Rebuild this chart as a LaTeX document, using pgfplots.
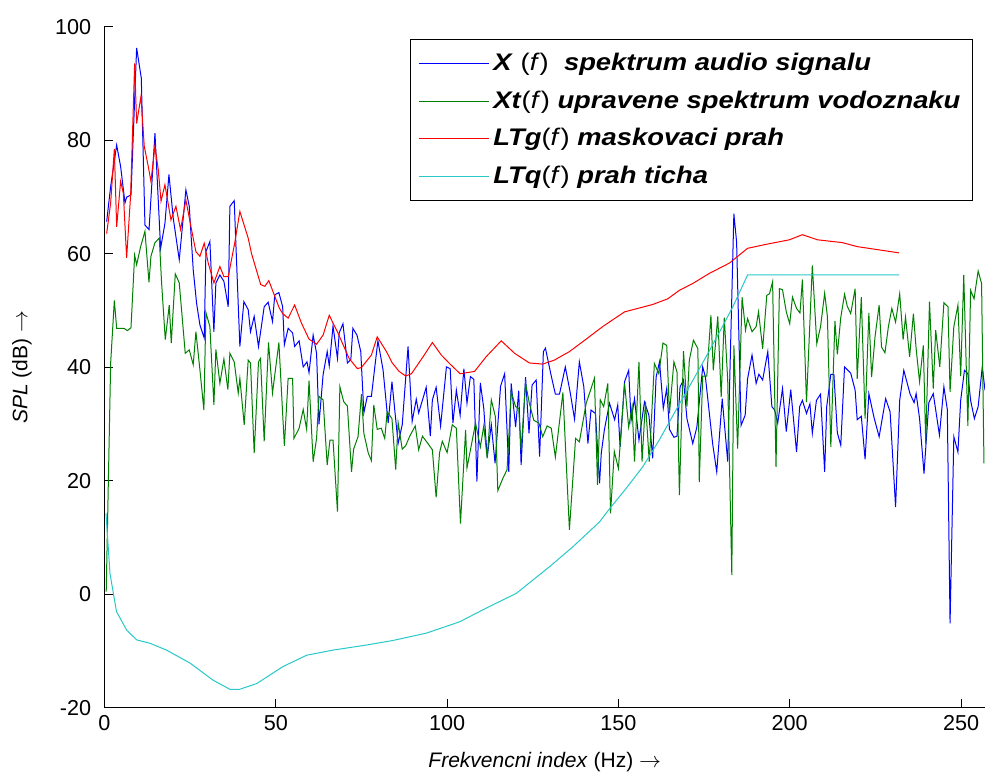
\documentclass[border=0pt]{standalone}
\usepackage{pgfplots}
\pgfplotsset{compat=1.18}
\usepackage{fontspec}
\setmainfont{Liberation Sans}
\newfontfamily\legendfont[FakeStretch=1.14]{Liberation Sans}
\definecolor{mblue}{rgb}{0,0,1}
\definecolor{mgreen}{rgb}{0,0.5,0}
\definecolor{mred}{rgb}{1,0,0}
\definecolor{mcyan}{RGB}{40,200,200}
\newcommand{\ff}{\textmd{\textup{(}\textit{f}\textup{)}}}
\begin{document}
\fontsize{10.5}{12.6}\selectfont
\begin{tikzpicture}
\begin{axis}[
  scale only axis, width=440.25pt, height=340.5pt,
  xmin=0, xmax=257, ymin=-20, ymax=100,
  axis x line*=bottom, axis y line*=left,
  axis line style={line width=0.5pt},
  tick align=inside, major tick length=4.5pt,
  tick style={line width=0.5pt, black},
  xtick={0,50,100,150,200,250}, xticklabels={0,50,100,150,200,250},
  ytick={-20,0,20,40,60,80,100}, yticklabels={-20,0,20,40,60,80,100},
  ticklabel style={font=\fontsize{10.8}{12.6}\selectfont},
  yticklabel style={xshift=-3pt},
  every axis x label/.style={at={(axis description cs:0.5,0)}, yshift=-27pt, anchor=center},
  every axis y label/.style={at={(axis description cs:0,0.5)}, xshift=-41.25pt, rotate=90, anchor=center},
  xlabel={\textit{Frekvencni index} (Hz) $\rightarrow$},
  ylabel={\textit{SPL} (dB) $\rightarrow$},
  legend style={at={(rel axis cs:0.9864,0.982)}, anchor=north east, draw=black, line width=0.6pt,
    font=\legendfont\fontsize{12}{14}\selectfont\bfseries\itshape, inner xsep=4pt, inner ysep=4.8pt, row sep=4.5pt},
  legend cell align=left,
  legend image code/.code={\draw[#1, line width=0.6pt] (0pt,0pt) -- (35pt,0pt);},
  every axis plot/.append style={line width=0.5pt},
]
\addplot[draw=mblue] coordinates {
(0.63,65.7) (1.8,71.9) (3.55,79.2) (4.71,75.4) (5.98,69) (6.46,70) (7.73,70.4) (9.38,96.3) (10.74,91) (11.81,65.1) (13,64.3) (14.73,81.3) (16.38,61) (17.64,65.4) (18.81,74) (20.07,66.3) (21.82,59) (23.76,71.3) (24.74,68.4) (25.9,57.2) (26.88,51.3) (27.85,47.5) (29.11,45.2) (29.6,60.4) (30.76,62.2) (31.93,46.3) (32.51,54.9) (33.68,56.3) (34.85,55.2) (36.11,50.7) (36.6,68.4) (37.86,69.4) (39.51,43.7) (40.68,51.6) (41.94,50.2) (42.62,46.3) (43.69,49) (44.95,43.7) (46.61,50.7) (47.77,51.5) (49.04,48.1)
(49.7,52.8) (50.9,53.2) (52,50.7) (52.5,44) (53.6,46.9) (54.9,46.1) (55.5,43.7) (56.8,44.7) (58,40.1) (59.1,41) (59.7,39.1) (60.9,45.7) (61.9,42.5) (62.6,30) (63.8,38.7) (65,42.8) (65.6,40.3) (66.7,47.3) (68,41.6) (68.5,46.1) (69.6,47.7) (70.9,40.8) (71.9,41.4) (72.5,46.9) (73.7,45.7) (74.8,42.8) (75.7,32) (76.7,34.9) (77.9,34.9) (78.9,40.1) (79.8,44.7) (81.3,39.6) (82.8,30.2) (83.9,37.5) (85.7,26.6) (86.9,29.9) (88.6,43.7) (89.8,30.5) (91,34.4) (91.7,32) (93.9,36.5) (95.1,27.9) (95.7,34.3) (96.8,36.5) (98.1,29.7) (99.8,40.1)
(100.9,39.8) (101.7,30.2) (102.7,36) (103.8,31.6) (104.9,39.8) (105.8,33.7) (106.8,38.4) (107.8,37.9) (108.7,19.9) (109.7,37.3) (110.7,32.8) (111.7,24.2) (112.9,29.9) (114,23.1) (115.6,36.7) (116.8,38.9) (118,21.6) (118.7,37.2) (120,29.5) (120.9,35.9) (121.6,22.8) (122.9,38.3) (123.9,28.4) (124.8,36.9) (126,37.8) (127,24.3) (128.1,42.8) (128.7,43.4) (130.4,38.5) (131.6,35.3) (132.8,35.3) (134.5,40.1) (135.9,35.7) (137.2,30.9) (138.6,41) (139.9,36.6) (141.1,26.6) (142,32.5) (143.3,31.9) (144.5,19.6) (145,24.9) (145.9,29) (147.4,33.7)
(148.9,30.8) (149.8,33.4) (150.5,26) (151.8,37.5) (153,39.5) (153.7,30.7) (154.7,34.5) (156,27.2) (157.6,33.9) (158.9,31.6) (160,24) (161,38.3) (162,41) (163.1,32.8) (164.1,36.3) (164.9,29.1) (166.2,27.7) (167.1,27.9) (168,36.6) (169,37.8) (170,31) (171.7,26.6) (172.9,29.5) (174.6,40.1) (175.4,38.3) (177.5,26.6) (178.7,21.6) (180.3,34.5) (181.9,23.4) (183.7,67.1) (184.5,62.1) (185.8,29.8) (187,31.6) (187.7,38) (189,42.2) (190.2,37.2) (191,38.8) (192.1,37.8) (193.6,42.8) (194.8,33.1) (195.6,32.5) (196.5,30.2)
(197.9,36.3) (199,28.7) (200.3,36.1) (202,25.1) (202.9,33.1) (203.7,34.2) (204.9,31.9) (205.9,33.6) (206.6,28.4) (207.8,34.2) (209,35.3) (210.2,21.6) (210.8,33.1) (212,38.8) (212.9,38.8) (213.9,28.5) (214.9,26.3) (216,40.1) (217.8,39) (219.1,36) (219.7,30.8) (220.9,31.4) (222,23.8) (223.1,35.4) (224.6,31.2) (226.1,27.8) (228,34.5) (229.3,32.2) (230.9,15.4) (232.1,34.2) (233.3,39.5) (235.1,35.4) (236.3,33.8) (236.9,35.4) (237.9,31) (239.2,21.3) (240.6,33.8) (241.9,35.4) (243.7,28.1) (245,36.6) (246,32.6) (246.8,-5.1) (247.9,27.8) (249.1,25.1) (249.9,34.2) (251,39.5) (252,38.9) (252.8,34.2) (253.9,31) (255,33.1) (256.2,40.1) (257,36)
};
\addlegendentry{X \ff\ \ spektrum audio signalu}
\addplot[draw=mgreen] coordinates {
(0.5,0.5) (1.8,40.8) (2.87,51.8) (3.55,46.9) (4.71,46.9) (5.69,46.9) (6.66,46.5) (7.73,47) (8.8,59.8) (9.38,58.1) (10.55,61.3) (11.81,64) (12.98,55) (13.56,59.6) (14.73,62) (15.99,62.8) (16.67,54.9) (17.74,44.9) (18.9,51) (19.49,44.3) (20.66,56.5) (21.82,54.9) (23.57,42.5) (24.74,43.1) (25.9,40.5) (26.68,46.3) (27.85,39.6) (29.01,32.5) (29.6,49.7) (30.76,47.2) (31.93,33.4) (32.51,43.2) (33.68,37.2) (34.85,41.5) (36.01,36.1) (36.6,42.5) (37.86,41) (39.03,35.5) (39.51,38.1) (40.78,29.9) (41.94,41.3) (42.62,40.8) (43.69,24.9) (44.95,41) (45.54,41.6) (46.61,27) (47.87,44.4) (49.04,35.5) (50.9,44.4)
(52.5,26.2) (53.6,38.1) (54.9,38.1) (55.3,27.5) (56.8,29.3) (58,32.6) (59,29.1) (59.7,37.7) (60.9,23.4) (61.9,27.5) (62.6,34.9) (63.8,34.3) (65,22.8) (65.8,27.2) (66.7,27.2) (68,14.6) (68.7,36.6) (69.8,34) (70.9,33.2) (72.1,21.6) (72.7,25.6) (74,27.8) (75,35.3) (75.7,28.4) (77,24.9) (77.9,23.6) (78.6,33.4) (79.6,29.1) (80.8,29.3) (81.8,27.5) (82.5,32.2) (83.9,31) (85,22) (85.7,30.3) (86.9,25.6) (87.9,26.2) (89.1,27.9) (90.7,29.7) (91.7,25.5) (92.8,27.9) (94.4,26.6) (95.7,25.5) (96.8,17.1) (97.8,25) (98.6,27) (100,25)
(101.5,29.9) (102.7,29.3) (103.9,12.5) (105.4,29) (105.8,22.3) (108.3,30.2) (109.7,26) (110.7,29.7) (111.7,24) (112.9,34.3) (114.1,31.3) (114.8,18.3) (116.3,20.5) (117.5,22) (118.7,35.7) (120,33.1) (120.9,32.8) (121.6,25.5) (122.9,37.2) (124,33.7) (125.3,30.7) (126.8,30.2) (127.9,27.8) (129.2,29.7) (130.4,29.3) (131.6,24.2) (133.8,35.6) (135.7,11.4) (137.5,27.5) (138.6,26.9) (140.6,33.7) (143,38.1) (143.9,19.3) (144.7,34.3) (145.7,33.1) (146.9,37.2) (147.7,14.3) (148.8,25.2) (150,22.2)
(151.8,37.2) (153,29.5) (154,33.1) (154.7,23.4) (156,41) (156.9,23.4) (157.9,34) (159,23.4) (160.5,40.7) (161.8,38.9) (163,44.3) (164.1,43.9) (164.9,31.9) (166.2,41) (167.1,39.2) (167.8,17.5) (169,42.9) (170,33.1) (170.7,41.3) (171.9,44.8) (173.2,43.3) (173.6,19.8) (174.6,38.5) (175.8,38.5) (177,49.2) (177.7,39.5) (179,49) (180,34.8) (180.9,48.8) (181.9,37.8) (183.1,3.4) (183.7,43.9) (184.8,25.7) (186.1,52.4) (187.1,46.6) (187.7,48.6) (189,46.3) (190.2,47.2) (190.9,49.8) (192.1,43.3) (193.3,52.7) (194.1,53) (195,55.1) (196,22.5) (197,53.9) (197.9,53.7) (199,49.8)
(200,47.7) (200.8,52.4) (202,50.4) (203,49.6) (203.7,55.5) (204.9,33.9) (206.6,58) (207.9,44.2) (209,47.2) (210.2,53.1) (211,49) (212,26) (213.2,48.2) (213.9,42.3) (214.9,48.8) (216,52.9) (216.8,50.8) (217.8,49.5) (219.1,53.9) (219.7,38) (220.9,52.4) (222,31) (223.1,49.6) (223.9,38.3) (224.9,45.4) (226.1,51) (226.8,43.6) (227.8,42.6) (228.8,47.2) (229.8,50.4) (230.9,48) (232.1,53) (233.1,44.9) (233.8,48.9) (235,41.9) (236.1,49.5) (236.9,43.3) (237.9,37.5) (239,43.9) (239.7,26.6) (240.8,51.6) (241.9,36.3) (242.6,46.6) (243.8,40.1) (245,51.4) (246.2,50.7) (246.8,35.7) (247.9,47.2) (249.1,51) (249.9,38.5) (250.8,56.3) (252,29.7) (252.8,53.6) (253.8,52.1) (255,57) (256,54.8) (256.7,23.1)
};
\addlegendentry{Xt\ff\ upravene spektrum vodoznaku}
\addplot[draw=mred] coordinates {
(0.63,63.6) (1.8,69) (2.87,78.5) (3.55,64.8) (4.71,72.8) (5.5,70.7) (6.46,59.3) (7.63,70.4) (8.8,93.6) (9.38,83) (10.65,87.8) (11.6,79) (12.78,75.4) (13.56,72.8) (14.73,79) (15.7,74.8) (16.5,69.3) (17.64,72.2) (19.4,66) (20.85,68.4) (22.2,64.3) (23.76,69.5) (25.4,64.3) (26.68,60.4) (27.85,59.6) (29.11,61.9) (30.28,58.4) (31.93,54.9) (33.68,57.8) (34.85,56) (36.11,56) (38,61.9) (39.51,67.5) (41.94,62.8) (42.9,60.1) (45.6,54.6) (46.8,54.3) (47.96,55.3) (51,50.5)
(52,49.5) (53.6,48.7) (55.5,51) (57.5,47.8) (59.7,45) (61.9,44.1) (63.8,45.7) (65.6,49.2) (68.2,46) (71.4,41.6) (73.8,39.8) (75,40) (77.9,42.2) (79.6,45.4) (82.3,42.8) (84,40.8) (86,39.3) (87.9,38.5) (89.6,38.9) (93,41.9) (95.7,44.4) (98.3,42.2) (100.7,40.7)
(103.8,38.9) (108,39.3) (111.4,41.9) (115.8,44.7) (119.7,42.5) (124,40.8) (127.9,40.6) (131.3,41.3) (135.7,42.8) (140.6,45) (145.4,47.2) (150.3,49.2)
(151.8,49.8) (160,51.1) (164.4,52.1) (167.8,53.6) (171.7,54.8) (176.6,56.6) (182.4,58.4) (187.7,61) (193.1,61.7) (199.9,62.5) (203.7,63.4) (208.1,62.5) (215.4,62) (219.7,61.3) (231.9,60.2)
};
\addlegendentry{LTg\ff\ maskovaci prah}
\addplot[draw=mcyan] coordinates {
(0.44,14.3) (1.6,3.7) (3.5,-3.0) (6.5,-6.3) (9.4,-8.0) (13.3,-8.6) (18.1,-9.8) (25,-12.1) (31.7,-15.1) (36.6,-16.7) (39.5,-16.7) (44.4,-15.7) (52.1,-12.7) (59,-10.7) (66.7,-9.8) (76.5,-8.9) (84.2,-8.1) (94,-6.8) (103.7,-4.8) (111.4,-2.4) (120.2,0.2) (129.9,4.9) (136.7,8.4) (144.5,12.8) (147.4,15.1) (152,18.5) (157.1,22.5) (162,27.3) (166.8,32.5) (171.7,37.7) (176.6,43.0) (180,46.8) (183.4,50.7) (187.7,56.3) (231.9,56.3)
};
\addlegendentry{LTq\ff\ prah ticha}
\path (rel axis cs:0,0) coordinate (sw) (rel axis cs:1,1) coordinate (ne);
\end{axis}
\pgfresetboundingbox
\path[use as bounding box] ([shift={(-52.25pt,-33.5pt)}]sw) rectangle ([shift={(0pt,13.5pt)}]ne);
\end{tikzpicture}
\end{document}
